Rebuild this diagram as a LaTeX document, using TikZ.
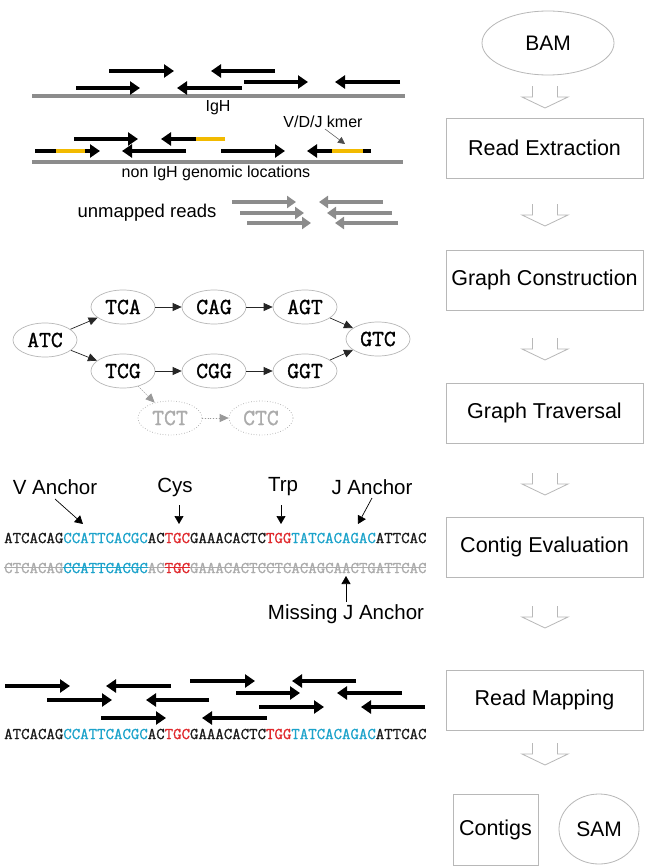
\documentclass[tikz,border=0pt]{standalone}
\usepackage{fontspec}
\setmainfont{Liberation Sans}
\newfontfamily\seqfont{Latin Modern Mono}[FakeBold=1.2]
\usetikzlibrary{arrows.meta,shapes.geometric,calc}
\definecolor{boxgray}{HTML}{B8B8B8}
\definecolor{linegray}{HTML}{8C8C8C}
\definecolor{ybar}{HTML}{F2BA00}
\definecolor{seqblue}{HTML}{1CA3CB}
\definecolor{seqred}{HTML}{E0282C}
\definecolor{seqgray}{HTML}{ABABAB}
\definecolor{seqblack}{HTML}{1A1A1A}
\newcommand\strk[1]{\setbox0\hbox{#1}\rlap{\rule[0.3em]{\wd0}{0.7pt}}\box0}
\tikzset{
  stepbox/.style={draw=boxgray, line width=0.8pt, minimum width=197pt, minimum height=60pt, inner sep=0pt, font=\fontsize{21.5}{24}\selectfont},
  endell/.style={ellipse, draw=boxgray, line width=0.8pt, inner sep=0pt, font=\fontsize{21}{24}\selectfont},
  read/.style={line width=4.5pt, draw=black, -{Triangle[length=10pt,width=13pt]}},
  greyread/.style={line width=4pt, draw=linegray, -{Triangle[length=9pt,width=12pt]}},
  kseg/.style={line width=4.5pt, draw=ybar},
  genome/.style={line width=4pt, draw=linegray},
  kmer/.style={ellipse, draw=boxgray, line width=0.7pt, minimum width=64pt, minimum height=34pt, inner sep=0pt, font=\seqfont\fontsize{23}{23}\selectfont},
  ghost/.style={kmer, draw=seqgray, dotted, text=seqgray},
  gedge/.style={-{Triangle[length=9pt,width=8pt]}, line width=0.7pt, draw=black!85},
  gghost/.style={-{Triangle[length=9pt,width=8pt]}, line width=0.7pt, draw=gray!80, fill=gray!80, dotted},
  lab/.style={inner sep=0pt, font=\fontsize{16}{18}\selectfont},
  biglab/.style={inner sep=0pt, font=\fontsize{20.5}{22}\selectfont},
  seq/.style={inner sep=0pt, anchor=west, font=\seqfont\fontsize{16.4}{18}\selectfont},
  ptr/.style={-{Triangle[length=8pt,width=9pt]}, line width=0.7pt},
  flowarr/.pic={\draw[draw=boxgray, line width=0.8pt, line join=miter] (-12.5,0) -- (-12.5,11) -- (-23,11) -- (0,22) -- (23,11) -- (12.5,11) -- (12.5,0);}
}
\begin{document}
\begin{tikzpicture}[x=1pt,y=-1pt]
\useasboundingbox (0,0) rectangle (646,867);
\fill[white] (0,0) rectangle (646,867);

% ---------- right column ----------
\node[endell, minimum width=132pt, minimum height=64pt] (bam) at (548,43) {BAM};
\pic at (545,86) {flowarr};
\node[stepbox] (rext) at (544.5,148) {Read Extraction};
\pic at (545,204) {flowarr};
\node[stepbox] (gcons) at (544.5,280) {Graph Construction};
\pic at (545,338) {flowarr};
\node[stepbox] (gtrav) at (544.5,413) {Graph Traversal};
\pic at (545,473) {flowarr};
\node[stepbox] (ceval) at (544.5,547) {Contig Evaluation};
\pic at (545,606) {flowarr};
\node[stepbox] (rmap) at (544.5,700) {Read Mapping};
\pic at (545,743) {flowarr};
\node[stepbox, minimum width=85pt, minimum height=71pt] (contigs) at (495.5,829.5) {Contigs};
\node[endell, minimum width=80pt, minimum height=70pt] (sam) at (599,829) {SAM};

% ---------- read extraction ----------
\draw[genome] (32,96) -- (405,96);
\node[lab] (igh) at (218,108) {IgH};
\draw[read] (109,71) -- (174,71);
\draw[read] (76,88) -- (140,88);
\draw[read] (275,71) -- (211,71);
\draw[read] (242,88) -- (177,88);
\draw[read] (244,82) -- (308,82);
\draw[read] (400,82) -- (335,82);

\draw[genome] (32,162) -- (403,162);
\node[lab] (nonigh) at (216,173) {non IgH genomic locations};
\draw[read] (35,151) -- (100,151);
\draw[kseg] (56,151) -- (85,151);
\draw[read] (74,139) -- (138,139);
\draw[read] (225,139) -- (161,139);
\draw[kseg] (196,139) -- (225,139);
\draw[read] (186,151) -- (122,151);
\draw[read] (221,151) -- (285,151);
\draw[read] (371,151) -- (307,151);
\draw[kseg] (332,151) -- (363,151);
\node[lab] (vdj) at (323,122) {V/D/J kmer};
\coordinate (kmerpt) at (345,144);
\draw[-{Triangle[length=7pt,width=7pt]}, line width=0.5pt, draw=black!70] (325,129) -- (kmerpt);

\node[inner sep=0pt, font=\fontsize{18.5}{20}\selectfont] (unm) at (147,213) {unmapped reads};
\draw[greyread] (232,202) -- (296,202);
\draw[greyread] (240,213) -- (304,213);
\draw[greyread] (247,223) -- (311,223);
\draw[greyread] (383,202) -- (319,202);
\draw[greyread] (392,213) -- (327,213);
\draw[greyread] (398,223) -- (335,223);

% ---------- de Bruijn graph ----------
\node[kmer] (atc) at (45,340) {ATC};
\node[kmer] (tca) at (123,307) {TCA};
\node[kmer] (cag) at (214,307) {CAG};
\node[kmer] (agt) at (305,307) {AGT};
\node[kmer] (tcg) at (123,371) {TCG};
\node[kmer] (cgg) at (214,371) {CGG};
\node[kmer] (ggt) at (305,371) {GGT};
\node[kmer] (gtc) at (378,339) {GTC};
\node[ghost] (tct) at (170,418) {TCT};
\node[ghost] (ctc) at (261,418) {CTC};
\draw[gedge] (atc) -- (tca);
\draw[gedge] (atc) -- (tcg);
\draw[gedge] (tca) -- (cag);
\draw[gedge] (cag) -- (agt);
\draw[gedge] (tcg) -- (cgg);
\draw[gedge] (cgg) -- (ggt);
\draw[gedge] (agt) -- (gtc);
\draw[gedge] (ggt) -- (gtc);
\draw[gghost] (tcg) -- (tct);
\draw[gghost] (tct) -- (ctc);

% ---------- contig evaluation ----------
\node[biglab] (vanc) at (55,487) {V Anchor};
\node[biglab] (cys) at (175,487) {Cys};
\node[biglab] (trp) at (283,487) {Trp};
\node[biglab] (janc) at (372,487) {J Anchor};
\node[seq] (seq1) at (4,538) {\color{seqblack}ATCACAG\textcolor{seqblue}{CCATTCACGC}AC\textcolor{seqred}{TGC}GAAACACTC\textcolor{seqred}{TGG}\textcolor{seqblue}{TATCACAGAC}ATTCAC};
\node[seq] (seq2) at (4,568) {{\color{seqgray}\strk{CTCACAG}}{\color{seqblue}\strk{CCATTCACGC}}{\color{seqgray}\strk{AC}}{\color{seqred}\strk{TGC}}{\color{seqgray}\strk{GAAACACTCCTCACAGCAACTGATTCAC}}};
\node[biglab] (mjanc) at (346,614) {Missing J Anchor};
\coordinate (pv) at (83,524);
\coordinate (pc) at (179,524);
\coordinate (pt) at (281,524);
\coordinate (pj) at (358,524);
\coordinate (pm) at (346,576);
\draw[ptr] (55,499) -- (pv);
\draw[ptr] (179,505) -- (pc);
\draw[ptr] (281,505) -- (pt);
\draw[ptr] (372,498) -- (pj);
\draw[ptr] (346,602) -- (pm);

% ---------- read mapping ----------
\draw[read] (5,686) -- (70,686);
\draw[read] (171,686) -- (106,686);
\draw[read] (47,700) -- (112,700);
\draw[read] (209,700) -- (146,700);
\draw[read] (101,718) -- (166,718);
\draw[read] (267,718) -- (202,718);
\draw[read] (190,681) -- (255,681);
\draw[read] (356,681) -- (292,681);
\draw[read] (236,693) -- (300,693);
\draw[read] (402,693) -- (337,693);
\draw[read] (259,707) -- (324,707);
\draw[read] (425,707) -- (361,707);
\node[seq] (seq3) at (4,734) {\color{seqblack}ATCACAG\textcolor{seqblue}{CCATTCACGC}AC\textcolor{seqred}{TGC}GAAACACTC\textcolor{seqred}{TGG}\textcolor{seqblue}{TATCACAGAC}ATTCAC};
\end{tikzpicture}
\end{document}
